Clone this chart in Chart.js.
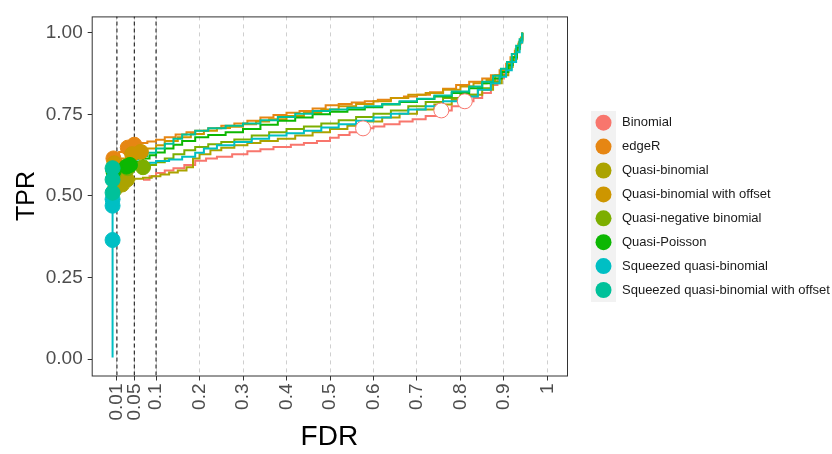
<!DOCTYPE html>
<html>
<head>
<meta charset="utf-8">
<script src="https://cdn.jsdelivr.net/npm/chart.js@4.4.1/dist/chart.umd.min.js"></script>
<style>
  html, body { margin: 0; padding: 0; background: #fff; }
</style>
</head>
<body>
<canvas id="chart" width="832" height="454"></canvas>
<script>
// method names, in legend order
const methods = ["Binomial", "edgeR", "Quasi-binomial", "Quasi-binomial with offset",
  "Quasi-negative binomial", "Quasi-Poisson", "Squeezed quasi-binomial",
  "Squeezed quasi-binomial with offset"];

// FDR thresholds of the dashed lines and the points
const thresholds = [0.01, 0.05, 0.1];

// axis ticks
const xTickValues = [0.01, 0.05, 0.1, 0.2, 0.3, 0.4, 0.5, 0.6, 0.7, 0.8, 0.9, 1];
const xTickLabels = ["0.01", "0.05", "0.1", "0.2", "0.3", "0.4", "0.5", "0.6", "0.7", "0.8", "0.9", "1"];
const yTickValues = [0, 0.25, 0.5, 0.75, 1];
const yTickLabels = ["0.00", "0.25", "0.50", "0.75", "1.00"];

// FDR/TPR curves
const fdrBinomial = [0.07, 0.085, 0.10, 0.12, 0.14, 0.165, 0.19, 0.215, 0.24, 0.275, 0.31, 0.34, 0.37, 0.41, 0.44, 0.47, 0.50, 0.52, 0.545, 0.576, 0.60, 0.625, 0.66, 0.69, 0.72, 0.756, 0.78, 0.81, 0.83, 0.85, 0.87, 0.885, 0.90, 0.91, 0.92, 0.93, 0.936, 0.942];
const tprBinomial = [0.55, 0.56, 0.57, 0.578, 0.585, 0.595, 0.608, 0.615, 0.62, 0.628, 0.637, 0.643, 0.65, 0.657, 0.662, 0.668, 0.678, 0.687, 0.695, 0.707, 0.713, 0.72, 0.728, 0.735, 0.745, 0.762, 0.775, 0.79, 0.80, 0.815, 0.84, 0.86, 0.88, 0.90, 0.925, 0.955, 0.975, 1.0];

const fdrEdgeR = [0.002, 0.015, 0.035, 0.05, 0.065, 0.08, 0.10, 0.12, 0.145, 0.17, 0.19, 0.22, 0.25, 0.28, 0.31, 0.34, 0.37, 0.40, 0.43, 0.46, 0.49, 0.52, 0.55, 0.58, 0.61, 0.64, 0.67, 0.70, 0.73, 0.76, 0.79, 0.82, 0.85, 0.87, 0.89, 0.905, 0.915, 0.925, 0.933, 0.938, 0.942];
const tprEdgeR = [0.615, 0.635, 0.648, 0.657, 0.662, 0.667, 0.672, 0.68, 0.688, 0.695, 0.70, 0.707, 0.715, 0.722, 0.73, 0.74, 0.748, 0.755, 0.76, 0.768, 0.778, 0.782, 0.786, 0.79, 0.795, 0.80, 0.805, 0.81, 0.818, 0.828, 0.84, 0.85, 0.86, 0.87, 0.885, 0.905, 0.925, 0.945, 0.965, 0.98, 1.0];

const fdrQb = [0.005, 0.022, 0.033, 0.05, 0.07, 0.09, 0.11, 0.13, 0.15, 0.17, 0.185, 0.20, 0.225, 0.25, 0.28, 0.31, 0.34, 0.38, 0.42, 0.46, 0.50, 0.54, 0.58, 0.62, 0.66, 0.70, 0.74, 0.78, 0.82, 0.85, 0.875, 0.895, 0.91, 0.92, 0.93, 0.937, 0.942];
const tprQb = [0.52, 0.535, 0.55, 0.553, 0.556, 0.56, 0.566, 0.572, 0.578, 0.588, 0.615, 0.628, 0.64, 0.648, 0.655, 0.662, 0.668, 0.675, 0.685, 0.695, 0.705, 0.715, 0.728, 0.74, 0.752, 0.765, 0.78, 0.795, 0.81, 0.825, 0.845, 0.87, 0.895, 0.92, 0.95, 0.975, 1.0];

const fdrQbOffset = [0.004, 0.02, 0.045, 0.065, 0.08, 0.10, 0.12, 0.15, 0.18, 0.21, 0.24, 0.27, 0.30, 0.33, 0.36, 0.40, 0.44, 0.48, 0.52, 0.56, 0.60, 0.64, 0.68, 0.72, 0.76, 0.80, 0.83, 0.86, 0.88, 0.895, 0.908, 0.918, 0.927, 0.934, 0.939, 0.942];
const tprQbOffset = [0.60, 0.615, 0.628, 0.635, 0.645, 0.655, 0.668, 0.68, 0.69, 0.70, 0.708, 0.712, 0.72, 0.728, 0.735, 0.745, 0.755, 0.765, 0.775, 0.782, 0.79, 0.80, 0.81, 0.815, 0.825, 0.835, 0.845, 0.855, 0.87, 0.885, 0.905, 0.925, 0.95, 0.97, 0.985, 1.0];

const fdrQnb = [0.003, 0.035, 0.07, 0.085, 0.10, 0.12, 0.14, 0.165, 0.19, 0.22, 0.25, 0.28, 0.32, 0.36, 0.40, 0.44, 0.48, 0.52, 0.56, 0.60, 0.64, 0.68, 0.72, 0.76, 0.80, 0.84, 0.87, 0.89, 0.905, 0.917, 0.927, 0.935, 0.942];
const tprQnb = [0.57, 0.585, 0.588, 0.595, 0.603, 0.615, 0.628, 0.64, 0.65, 0.658, 0.665, 0.673, 0.685, 0.695, 0.705, 0.713, 0.722, 0.732, 0.742, 0.752, 0.762, 0.775, 0.788, 0.80, 0.81, 0.83, 0.85, 0.87, 0.89, 0.915, 0.945, 0.97, 1.0];

const fdrQp = [0.002, 0.032, 0.04, 0.055, 0.07, 0.085, 0.10, 0.12, 0.14, 0.16, 0.19, 0.22, 0.26, 0.30, 0.34, 0.38, 0.42, 0.46, 0.50, 0.54, 0.58, 0.62, 0.66, 0.70, 0.74, 0.78, 0.82, 0.85, 0.875, 0.895, 0.91, 0.92, 0.93, 0.937, 0.942];
const tprQp = [0.575, 0.59, 0.595, 0.605, 0.615, 0.625, 0.633, 0.645, 0.657, 0.668, 0.68, 0.687, 0.695, 0.705, 0.718, 0.73, 0.74, 0.75, 0.758, 0.765, 0.772, 0.78, 0.788, 0.797, 0.805, 0.815, 0.83, 0.845, 0.86, 0.88, 0.90, 0.925, 0.955, 0.978, 1.0];

const fdrSqb = [0.0, 0.0, 0.0, 0.0, 0.0, 0.0, 0.01, 0.025, 0.045, 0.065, 0.085, 0.10, 0.13, 0.16, 0.19, 0.21, 0.24, 0.28, 0.32, 0.36, 0.40, 0.44, 0.48, 0.52, 0.56, 0.60, 0.64, 0.68, 0.72, 0.76, 0.80, 0.84, 0.87, 0.89, 0.905, 0.918, 0.928, 0.936, 0.942];
const tprSqb = [0.005, 0.365, 0.47, 0.49, 0.53, 0.565, 0.575, 0.585, 0.592, 0.598, 0.602, 0.607, 0.612, 0.62, 0.632, 0.645, 0.655, 0.665, 0.675, 0.685, 0.692, 0.70, 0.71, 0.72, 0.73, 0.74, 0.752, 0.765, 0.775, 0.79, 0.805, 0.825, 0.845, 0.865, 0.885, 0.91, 0.94, 0.97, 1.0];

const fdrSqbOffset = [0.0, 0.0, 0.0, 0.008, 0.02, 0.04, 0.06, 0.08, 0.10, 0.12, 0.14, 0.16, 0.19, 0.22, 0.26, 0.30, 0.34, 0.38, 0.42, 0.46, 0.50, 0.54, 0.58, 0.62, 0.66, 0.70, 0.74, 0.78, 0.82, 0.85, 0.875, 0.893, 0.907, 0.918, 0.928, 0.936, 0.942];
const tprSqbOffset = [0.51, 0.55, 0.585, 0.595, 0.603, 0.612, 0.622, 0.632, 0.645, 0.66, 0.675, 0.688, 0.70, 0.707, 0.715, 0.722, 0.732, 0.742, 0.752, 0.76, 0.765, 0.77, 0.775, 0.782, 0.79, 0.798, 0.808, 0.82, 0.835, 0.85, 0.868, 0.89, 0.91, 0.935, 0.96, 0.98, 1.0];

// observed FDR / TPR at the thresholds 0.01, 0.05, 0.1
const ptFdrBinomial = [0.576, 0.756, 0.81],  ptTprBinomial = [0.707, 0.762, 0.79];
const ptFdrEdgeR = [0.002, 0.035, 0.05],     ptTprEdgeR = [0.615, 0.648, 0.657];
const ptFdrQb = [0.005, 0.022, 0.033],       ptTprQb = [0.52, 0.535, 0.55];
const ptFdrQbOffset = [0.004, 0.045, 0.065], ptTprQbOffset = [0.60, 0.628, 0.635];
const ptFdrQnb = [0.003, 0.035, 0.07],       ptTprQnb = [0.57, 0.585, 0.588];
const ptFdrQp = [0.002, 0.032, 0.04],        ptTprQp = [0.575, 0.59, 0.595];
const ptFdrSqb = [0.0, 0.0, 0.0],            ptTprSqb = [0.365, 0.47, 0.49];
const ptFdrSqbOffset = [0.0, 0.0, 0.0],      ptTprSqbOffset = [0.51, 0.55, 0.585];

const curves = [
  [fdrBinomial, tprBinomial], [fdrEdgeR, tprEdgeR], [fdrQb, tprQb], [fdrQbOffset, tprQbOffset],
  [fdrQnb, tprQnb], [fdrQp, tprQp], [fdrSqb, tprSqb], [fdrSqbOffset, tprSqbOffset]
];
const points = [
  [ptFdrBinomial, ptTprBinomial], [ptFdrEdgeR, ptTprEdgeR], [ptFdrQb, ptTprQb], [ptFdrQbOffset, ptTprQbOffset],
  [ptFdrQnb, ptTprQnb], [ptFdrQp, ptTprQp], [ptFdrSqb, ptTprSqb], [ptFdrSqbOffset, ptTprSqbOffset]
];

const colors = ["#F8766D", "#E68613", "#ABA300", "#CD9600", "#7CAE00", "#0CB702", "#00BFC4", "#00C19A"];
const FONT = "'Liberation Sans', Arial, sans-serif";
const X_MIN = -0.048, X_MAX = 1.045, Y_MIN = -0.05, Y_MAX = 1.05;

const toXY = (xs, ys) => xs.map((x, i) => ({ x: x, y: ys[i] }));

const datasets = [];
thresholds.forEach(t => {
  datasets.push({
    data: [{ x: t, y: Y_MIN }, { x: t, y: Y_MAX }],
    showLine: true, borderColor: "#1a1a1a", borderWidth: 1.1, borderDash: [4, 3],
    pointRadius: 0, order: 300
  });
});
curves.forEach((c, i) => {
  datasets.push({
    label: methods[i],
    data: toXY(c[0], c[1]),
    showLine: true, stepped: true, borderColor: colors[i], borderWidth: 2,
    pointRadius: 0, order: 200 - i
  });
});
points.forEach((p, i) => {
  // filled when the observed FDR is below its threshold, open otherwise
  const filled = p[0].map((f, k) => f <= thresholds[k]);
  datasets.push({
    label: methods[i],
    data: toXY(p[0], p[1]),
    showLine: false,
    pointRadius: 7.5,
    pointBackgroundColor: filled.map(f => f ? colors[i] : "#ffffff"),
    pointBorderColor: colors[i],
    pointBorderWidth: 1,
    order: 100 - i
  });
});

const panelAndLegend = {
  id: "panelAndLegend",
  afterDatasetsDraw(chart) {
    const { ctx, chartArea: a } = chart;
    ctx.save();
    ctx.strokeStyle = "#333333";
    ctx.lineWidth = 1;
    ctx.strokeRect(a.left + 0.5, a.top + 0.5, a.right - a.left, a.bottom - a.top);
    ctx.restore();
  },
  afterDraw(chart) {
    const ctx = chart.ctx;
    ctx.save();
    ctx.fillStyle = "#F2F2F2";
    ctx.fillRect(591, 111, 25, 191);
    methods.forEach((m, i) => {
      const y = 122.7 + 23.9 * i;
      ctx.beginPath();
      ctx.arc(603.5, y, 8, 0, Math.PI * 2);
      ctx.fillStyle = colors[i];
      ctx.fill();
      ctx.fillStyle = "#1a1a1a";
      ctx.font = "13px " + FONT;
      ctx.textBaseline = "middle";
      ctx.textAlign = "left";
      ctx.fillText(m, 622, y);
    });
    ctx.restore();
  }
};

new Chart(document.getElementById("chart"), {
  type: "scatter",
  data: { datasets: datasets },
  plugins: [panelAndLegend],
  options: {
    responsive: false,
    animation: false,
    devicePixelRatio: 1,
    layout: { padding: { left: 0, right: 265, top: 10, bottom: 0 } },
    plugins: { legend: { display: false }, tooltip: { enabled: false } },
    scales: {
      x: {
        type: "linear", min: X_MIN, max: X_MAX,
        afterBuildTicks: s => { s.ticks = xTickValues.map(v => ({ value: v })); },
        afterFit: s => { s.height = 78.5; },
        ticks: {
          autoSkip: false, minRotation: 90, maxRotation: 90, padding: 3,
          color: "#4D4D4D", font: { size: 19, family: FONT },
          callback: (v, i) => xTickLabels[i]
        },
        grid: { color: "#CFCFCF", lineWidth: 1, drawTicks: true, tickLength: 5, tickColor: "#333333", tickWidth: 1 },
        border: { display: false, dash: [4, 4] },
        title: { display: true, text: "FDR", color: "#000", font: { size: 28, family: FONT }, padding: { top: 0, bottom: 0 } }
      },
      y: {
        type: "linear", min: Y_MIN, max: Y_MAX,
        afterBuildTicks: s => { s.ticks = yTickValues.map(v => ({ value: v })); },
        afterFit: s => { s.width = 91.7; },
        ticks: {
          padding: 5, color: "#4D4D4D", font: { size: 19, family: FONT },
          callback: (v, i) => yTickLabels[i]
        },
        grid: { drawOnChartArea: false, drawTicks: true, tickLength: 4, tickColor: "#333333" },
        border: { display: false },
        title: { display: true, text: "TPR", color: "#000", font: { size: 25, family: FONT }, padding: { top: 12, bottom: 0 } }
      }
    }
  }
});
</script>
</body>
</html>
